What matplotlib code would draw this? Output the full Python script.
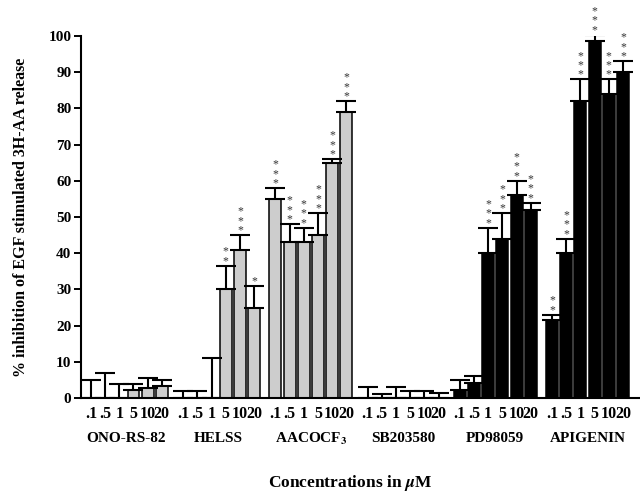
import numpy as np
import matplotlib
matplotlib.use('Agg')
import matplotlib.pyplot as plt

plt.rcParams['font.family'] = ['Liberation Serif', 'DejaVu Serif']
plt.rcParams['font.weight'] = 'bold'
plt.rcParams['mathtext.fontset'] = 'stix'

# data
groups = ['ONO-RS-82', 'HELSS', 'AACOCF$_\\mathbf{3}$', 'SB203580', 'PD98059', 'APIGENIN']
conc_labels = ['.1', '.5', '1', '5', '10', '20']
values = [
    [0, 0, 0, 2.1, 2.7, 3.4],
    [0, 0, 0, 30, 41, 25],
    [55, 43, 43, 45, 65, 79],
    [0, 0, 0, 0, 0, 0],
    [2.1, 4.1, 40, 44, 56, 52],
    [21.5, 40, 82, 98.5, 84, 90],
]
err_top = [
    [5, 7, 4, 4, 5.4, 5],
    [2, 2, 11, 36.5, 45, 31],
    [58, 48, 47, 51, 66, 82],
    [3, 1, 3, 2, 2, 1.4],
    [5.1, 6.1, 47, 51, 60, 54],
    [23, 44, 88, 100.3, 88, 93],
]
stars = [
    [0, 0, 0, 0, 0, 0],
    [0, 0, 0, 2, 3, 1],
    [3, 3, 3, 3, 3, 3],
    [0, 0, 0, 0, 0, 0],
    [0, 0, 3, 3, 3, 3],
    [2, 3, 3, 3, 3, 3],
]
fills = ['#cdcdcd', '#cdcdcd', '#cdcdcd', 'black', 'black', 'black']

GROUP_STEP = 6.5

fig = plt.figure(figsize=(6.4, 4.93), dpi=100)
ax = fig.add_axes([81 / 640, 95 / 493, 1 - 81 / 640, 362 / 493])

tick_pos = []
tick_lab = []
for g, name in enumerate(groups):
    x = g * GROUP_STEP + np.arange(6)
    v = np.array(values[g], dtype=float)
    top = np.array(err_top[g], dtype=float)
    ax.bar(x, v, width=0.84, color=fills[g], edgecolor='black', linewidth=1.1, zorder=2)
    ax.errorbar(x, v, yerr=[np.zeros(6), top - v], fmt='none', ecolor='black',
                elinewidth=1.5, capsize=7.5, capthick=1.5, zorder=3)
    # significance asterisks stacked above the error bar
    for xi, t, n in zip(x, top, stars[g]):
        if n:
            ax.annotate('\n'.join(['*'] * n), xy=(xi, t), xytext=(0, -1),
                        textcoords='offset points', ha='center', va='bottom',
                        fontsize=8.5, linespacing=0.72, color='#333333',
                        fontweight='normal', annotation_clip=False)
    tick_pos.extend(x)
    tick_lab.extend(conc_labels)
    ax.text(g * GROUP_STEP + 2.5, -0.112, name, transform=ax.get_xaxis_transform(),
            ha='center', va='center', fontsize=11, fontweight='bold')

ax.set_xlim(-0.7, 38.7)
ax.set_ylim(0, 100)
ax.set_yticks(np.arange(0, 101, 10))
ax.set_xticks(tick_pos)
ax.set_xticklabels(tick_lab, fontsize=11.5, fontweight='bold')
ax.tick_params(axis='x', length=0, pad=6)
ax.tick_params(axis='y', direction='out', length=5, width=1.4, labelsize=11, pad=2)
for lab in ax.get_yticklabels():
    lab.set_fontweight('bold')

for s in ['top', 'right']:
    ax.spines[s].set_visible(False)
for s in ['left', 'bottom']:
    ax.spines[s].set_linewidth(1.5)

ax.set_ylabel('% inhibition of EGF stimulated 3H-AA release', fontsize=11.5,
              fontweight='bold', labelpad=14)
fig.text(350 / 640, 1 - 483 / 493, 'Concentrations in $\\mu$M', ha='center', va='center',
         fontsize=12.5, fontweight='bold')

fig.savefig('out.png', dpi=100)
